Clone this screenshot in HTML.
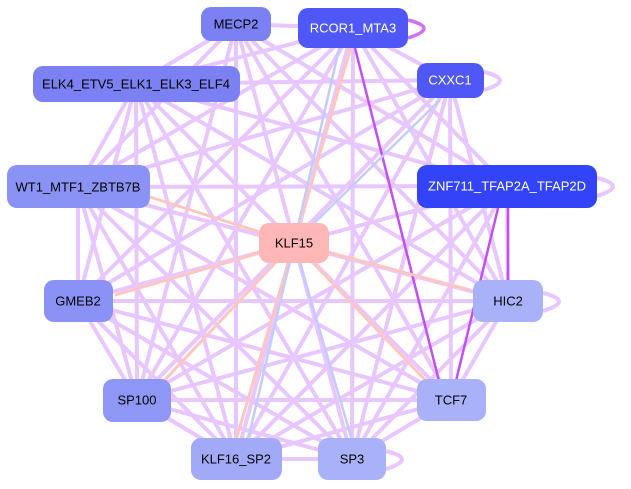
<!DOCTYPE html>
<html><head><meta charset="utf-8"><style>
body{margin:0;background:#fff;width:631px;height:489px;overflow:hidden}
svg{display:block}
text{font-family:"Liberation Sans",sans-serif;font-size:13px;text-anchor:middle;dominant-baseline:central}
</style></head><body>
<svg width="631" height="489" viewBox="0 0 631 489">
<g stroke="#e8c6ff" stroke-width="4" fill="none">
<line x1="236" y1="24" x2="353" y2="28"/><line x1="236" y1="24" x2="136" y2="84"/><line x1="236" y1="24" x2="507" y2="186"/><line x1="236" y1="24" x2="508" y2="301"/><line x1="236" y1="24" x2="451" y2="400"/><line x1="236" y1="24" x2="352" y2="459"/><line x1="236" y1="24" x2="236" y2="459"/><line x1="236" y1="24" x2="137" y2="400"/><line x1="236" y1="24" x2="78" y2="187"/>
<line x1="353" y1="28" x2="136" y2="84"/><line x1="353" y1="28" x2="450" y2="80"/><line x1="353" y1="28" x2="78" y2="187"/><line x1="353" y1="28" x2="78" y2="301"/><line x1="353" y1="28" x2="137" y2="400"/><line x1="353" y1="28" x2="236" y2="459"/><line x1="353" y1="28" x2="352" y2="459"/><line x1="353" y1="28" x2="508" y2="301"/><line x1="353" y1="28" x2="507" y2="186"/>
<line x1="136" y1="84" x2="450" y2="80"/><line x1="136" y1="84" x2="507" y2="186"/><line x1="136" y1="84" x2="508" y2="301"/><line x1="136" y1="84" x2="451" y2="400"/><line x1="136" y1="84" x2="352" y2="459"/><line x1="136" y1="84" x2="236" y2="459"/><line x1="136" y1="84" x2="137" y2="400"/><line x1="136" y1="84" x2="78" y2="301"/><line x1="136" y1="84" x2="78" y2="187"/>
<line x1="450" y1="80" x2="78" y2="187"/><line x1="450" y1="80" x2="78" y2="301"/><line x1="450" y1="80" x2="137" y2="400"/><line x1="450" y1="80" x2="236" y2="459"/><line x1="450" y1="80" x2="352" y2="459"/><line x1="450" y1="80" x2="508" y2="301"/><line x1="450" y1="80" x2="451" y2="400"/>
<line x1="78" y1="187" x2="507" y2="186"/><line x1="78" y1="187" x2="508" y2="301"/><line x1="78" y1="187" x2="451" y2="400"/><line x1="78" y1="187" x2="352" y2="459"/><line x1="78" y1="187" x2="236" y2="459"/><line x1="78" y1="187" x2="78" y2="301"/><line x1="78" y1="187" x2="137" y2="400"/>
<line x1="507" y1="186" x2="78" y2="301"/><line x1="507" y1="186" x2="137" y2="400"/><line x1="507" y1="186" x2="236" y2="459"/><line x1="507" y1="186" x2="352" y2="459"/><line x1="507" y1="186" x2="508" y2="301"/>
<line x1="78" y1="301" x2="508" y2="301"/><line x1="78" y1="301" x2="451" y2="400"/><line x1="78" y1="301" x2="352" y2="459"/><line x1="78" y1="301" x2="236" y2="459"/><line x1="78" y1="301" x2="137" y2="400"/>
<line x1="508" y1="301" x2="137" y2="400"/><line x1="508" y1="301" x2="236" y2="459"/><line x1="508" y1="301" x2="352" y2="459"/><line x1="508" y1="301" x2="451" y2="400"/>
<line x1="137" y1="400" x2="451" y2="400"/><line x1="137" y1="400" x2="236" y2="459"/><line x1="137" y1="400" x2="352" y2="459"/>
<line x1="451" y1="400" x2="236" y2="459"/><line x1="451" y1="400" x2="352" y2="459"/><line x1="236" y1="459" x2="352" y2="459"/>
<path d="M484 72 q32 8 0 18"/><path d="M597 178 q32 8 0 18"/><path d="M543 293 q32 8 0 18"/><path d="M386 451 q32 8 0 18"/>
</g>
<g stroke="#c34ef5" stroke-width="2.5" fill="none">
<line x1="353" y1="40" x2="440" y2="385"/><line x1="500" y1="200" x2="455" y2="385"/><line x1="508" y1="208" x2="508" y2="280"/><path d="M408 20 q32 8 0 18" stroke-width="3.5" stroke="#d070f8"/>
</g>
<g stroke="#ffc6c0" stroke-width="3">
<line x1="294" y1="243" x2="353" y2="40"/><line x1="294" y1="243" x2="115" y2="295"/><line x1="294" y1="243" x2="160" y2="385"/><line x1="294" y1="243" x2="236" y2="440"/><line x1="294" y1="243" x2="430" y2="385"/><line x1="294" y1="243" x2="470" y2="290"/><line x1="294" y1="243" x2="150" y2="197"/>
</g>
<g stroke="#c4ccff" stroke-width="2.5">
<line x1="294" y1="243" x2="340" y2="45"/><line x1="294" y1="243" x2="352" y2="440"/><line x1="294" y1="243" x2="440" y2="100"/><line x1="294" y1="243" x2="248" y2="440"/>
</g>
<g>
<rect x="201" y="7" width="70" height="34" rx="10" fill="#7b80f2"/><text x="236" y="24">MECP2</text>
<rect x="298" y="8" width="110" height="40" rx="10" fill="#4f58f6"/><text x="353" y="28" fill="#fff">RCOR1_MTA3</text>
<rect x="33" y="66" width="207" height="36" rx="10" fill="#7b80f2"/><text x="136" y="84">ELK4_ETV5_ELK1_ELK3_ELF4</text>
<rect x="417" y="63" width="67" height="35" rx="10" fill="#4f58f6"/><text x="450" y="80" fill="#fff">CXXC1</text>
<rect x="7" y="165" width="143" height="43" rx="10" fill="#8a92f5"/><text x="78" y="187">WT1_MTF1_ZBTB7B</text>
<rect x="417" y="165" width="180" height="43" rx="10" fill="#3344f8"/><text x="507" y="186" fill="#fff">ZNF711_TFAP2A_TFAP2D</text>
<rect x="259" y="223" width="70" height="40" rx="10" fill="#ffb6b6"/><text x="294" y="243">KLF15</text>
<rect x="44" y="280" width="69" height="42" rx="10" fill="#8a92f5"/><text x="78" y="301">GMEB2</text>
<rect x="473" y="280" width="70" height="42" rx="10" fill="#a9b1f8"/><text x="508" y="301">HIC2</text>
<rect x="103" y="379" width="68" height="43" rx="10" fill="#8f97f6"/><text x="137" y="400">SP100</text>
<rect x="417" y="379" width="69" height="42" rx="10" fill="#a9b1f8"/><text x="451" y="400">TCF7</text>
<rect x="191" y="438" width="91" height="42" rx="10" fill="#a2aaf7"/><text x="236" y="459">KLF16_SP2</text>
<rect x="318" y="438" width="68" height="42" rx="10" fill="#a9b1f8"/><text x="352" y="459">SP3</text>
</g>
</svg>
</body></html>
